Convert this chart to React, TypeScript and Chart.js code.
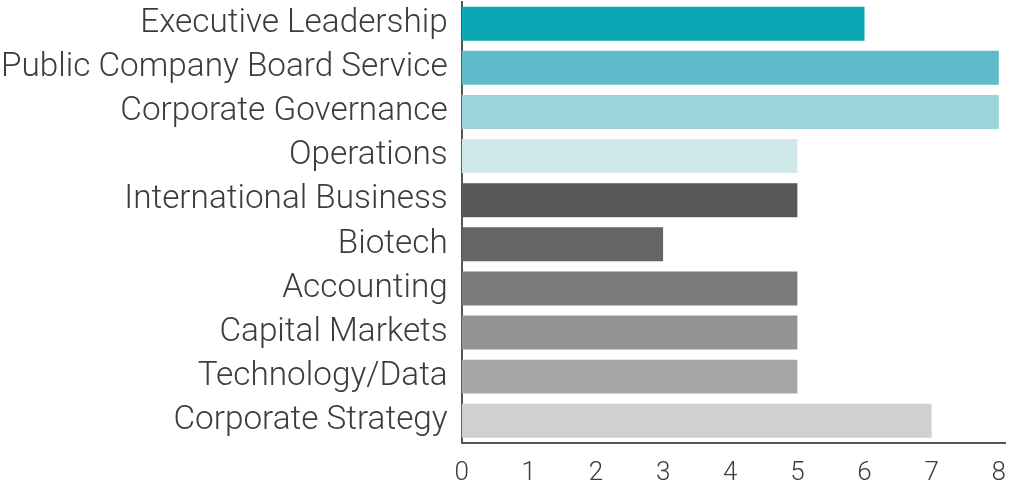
import React, { useEffect, useRef } from "react";
import { Chart, registerables } from "chart.js";

Chart.register(...registerables);

const categories = [
  "Executive Leadership",
  "Public Company Board Service",
  "Corporate Governance",
  "Operations",
  "International Business",
  "Biotech",
  "Accounting",
  "Capital Markets",
  "Technology/Data",
  "Corporate Strategy",
];

const values = [6, 8, 8, 5, 5, 3, 5, 5, 5, 7];

const barColors = [
  "#0ca6b5",
  "#5fbac9",
  "#9dd4dc",
  "#d1e8ea",
  "#595757",
  "#666464",
  "#7d7c7c",
  "#939393",
  "#a7a6a6",
  "#d0d0d0",
];

const xTickValues = [0, 1, 2, 3, 4, 5, 6, 7, 8];

export default function App() {
  const ref = useRef<HTMLCanvasElement | null>(null);

  useEffect(() => {
    if (!ref.current) return;
    const chart = new Chart(ref.current, {
      type: "bar",
      data: {
        labels: categories,
        datasets: [
          {
            data: values,
            backgroundColor: barColors,
            borderWidth: 0,
            categoryPercentage: 1,
            barPercentage: 0.77,
          },
        ],
      },
      options: {
        indexAxis: "y",
        animation: false,
        responsive: false,
        maintainAspectRatio: false,
        layout: { padding: { top: 0, right: 0, bottom: -13, left: -13 } },
        plugins: {
          legend: { display: false },
          tooltip: { enabled: false },
        },
        scales: {
          x: {
            min: 0,
            max: 8.1,
            grid: { display: false, drawTicks: false },
            border: { display: true, color: "#555555", width: 2 },
            afterBuildTicks: (scale: any) => {
              scale.ticks = xTickValues.map((v) => ({ value: v }));
            },
            ticks: {
              padding: 15,
              color: "#3c3c3c",
              font: { family: "Roboto", size: 26, weight: 300 },
            },
          },
          y: {
            grid: { display: false, drawTicks: false },
            border: { display: true, color: "#555555", width: 2 },
            ticks: {
              padding: 14,
              color: "#3c3c3c",
              font: { family: "Roboto", size: 33.3, weight: 300, lineHeight: 0.1 },
            },
          },
        },
      },
    });
    return () => chart.destroy();
  }, []);

  return (
    <div
      style={{
        position: "fixed",
        left: 0,
        top: 0,
        width: 1009,
        height: 486,
        overflow: "hidden",
        background: "#fff",
      }}
    >
      <canvas
        ref={ref}
        width={1021}
        height={505}
        style={{ display: "block", position: "absolute", left: 0, top: -14 }}
      />
    </div>
  );
}
